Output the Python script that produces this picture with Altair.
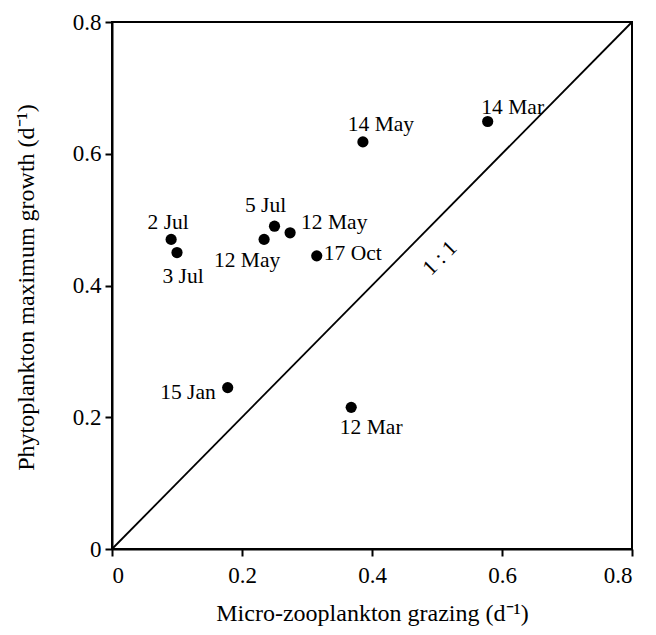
import altair as alt
import pandas as pd

# Data
labels = ["2 Jul", "3 Jul", "12 May", "5 Jul", "12 May", "17 Oct", "14 May", "14 Mar", "15 Jan", "12 Mar"]
grazing = [0.091, 0.100, 0.234, 0.250, 0.274, 0.315, 0.386, 0.578, 0.178, 0.368]
growth = [0.470, 0.450, 0.470, 0.490, 0.480, 0.445, 0.618, 0.649, 0.245, 0.215]
line_x = [0.0, 0.8]
line_y = [0.0, 0.8]
ticks = [0.0, 0.2, 0.4, 0.6, 0.8]

# label placement (style): align, dx, dy
placement = [
    ("center", -3, -16),
    ("center", 6, 24),
    ("center", -17, 22),
    ("center", -9, -20),
    ("left", 11, -10),
    ("left", 7, -2),
    ("center", 18, -17),
    ("center", 25, -13),
    ("right", -12, 5),
    ("center", 20, 21),
]

FONT = "Liberation Serif"
LABEL_SIZE = 21.5

df = pd.DataFrame({"id": list(range(len(labels))), "label": labels,
                   "x": grazing, "y": growth})
line_df = pd.DataFrame({"x": line_x, "y": line_y})

xscale = alt.Scale(domain=[0, 0.8], nice=False, zero=False)
yscale = alt.Scale(domain=[0, 0.8], nice=False, zero=False)

label_expr = "datum.value == 0 ? '0' : format(datum.value, '.1f')"

xaxis = alt.Axis(values=ticks, labelExpr=label_expr, title="Micro-zooplankton grazing (d⁻¹)",
                 titleX=260, titleY=64, titleAlign="center", titleBaseline="middle",
                 labelPadding=8)
yaxis = alt.Axis(values=ticks, labelExpr=label_expr, title="Phytoplankton maximum growth (d⁻¹)",
                 titleX=-86, titleY=265, titleAlign="center", titleBaseline="middle",
                 labelPadding=4)

line = alt.Chart(line_df).mark_line(color="black", strokeWidth=1.8).encode(
    x=alt.X("x:Q", scale=xscale, axis=xaxis),
    y=alt.Y("y:Q", scale=yscale, axis=yaxis),
)

points = alt.Chart(df).mark_circle(color="black", opacity=1, size=125).encode(
    x=alt.X("x:Q", scale=xscale),
    y=alt.Y("y:Q", scale=yscale),
)

layers = [line, points]
for i, (al, dx, dy) in enumerate(placement):
    layers.append(
        alt.Chart(df).transform_filter(alt.datum.id == i).mark_text(
            font=FONT, fontSize=LABEL_SIZE, color="black", align=al, baseline="middle", dx=dx, dy=dy
        ).encode(x=alt.X("x:Q", scale=xscale), y=alt.Y("y:Q", scale=yscale), text="label:N")
    )

ratio_df = pd.DataFrame({"x": [0.505], "y": [0.441], "t": ["1 : 1"]})
layers.append(
    alt.Chart(ratio_df).mark_text(font=FONT, fontSize=LABEL_SIZE, color="black", angle=315,
                                  align="center", baseline="middle").encode(
        x=alt.X("x:Q", scale=xscale), y=alt.Y("y:Q", scale=yscale), text="t:N")
)

chart = alt.layer(*layers).properties(
    width=520, height=527,
    autosize=alt.AutoSizeParams(type="none"),
    padding={"left": 104, "top": 14, "right": 16, "bottom": 80},
    background="white",
).configure_view(stroke="black", strokeWidth=2).configure_axis(
    grid=False, domainColor="black", domainWidth=2, tickColor="black", tickWidth=2,
    tickSize=7, labelFont=FONT, labelFontSize=23, labelColor="black",
    titleFont=FONT, titleFontSize=24, titleFontWeight="normal", titleColor="black",
)

chart.save("out.html", embed_options={"renderer": "svg", "actions": False})
